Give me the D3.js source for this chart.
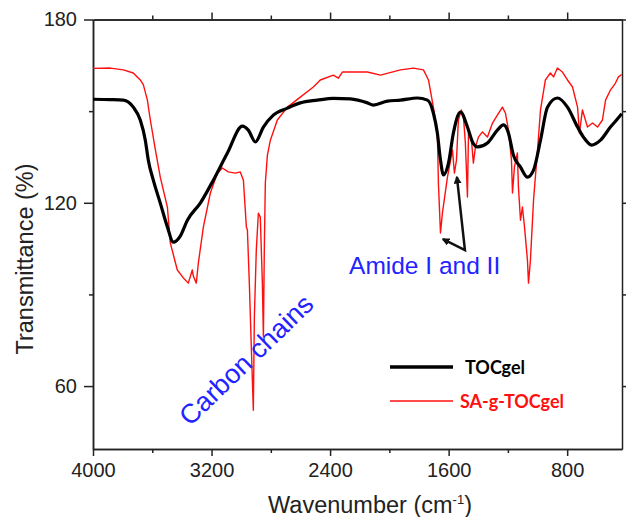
<!DOCTYPE html>
<html lang="en">
<head>
    <meta charset="UTF-8">
    <title>FTIR spectra</title>
    <script src="https://d3js.org/d3.v7.min.js"></script>
    <style>
        body { margin: 0; background-color: white; }
        .axis path, .axis line { stroke: #222; stroke-width: 1.5px; }
        .axis text { font-family: "Liberation Sans", Arial, sans-serif; font-size: 20px; fill: #222; }
        .title { font-family: "Liberation Sans", Arial, sans-serif; font-size: 23.5px; fill: #222; }
        .legend { font-family: Lato, "Open Sans", sans-serif; font-size: 18px; font-weight: bold; }
        .note { font-family: "Liberation Sans", Arial, sans-serif; fill: #2323ff; }
    </style>
</head>
<body>
<script>
    // wavenumber (cm-1), transmittance (%)
    const tocgel = [
        [4000, 153.9], [3883, 153.8], [3795, 153.6], [3728, 151.3], [3681, 147.1], [3647, 140.5],
        [3627, 134.0], [3593, 127.4], [3546, 119.9], [3498, 112.1], [3458, 107.1], [3411, 109.1],
        [3363, 114.3], [3276, 119.9], [3188, 127.4], [3093, 136.3], [2992, 145.1], [2952, 143.8],
        [2904, 139.9], [2850, 144.8], [2783, 148.7], [2688, 151.0], [2601, 152.7], [2486, 153.6],
        [2378, 154.2], [2263, 154.0], [2148, 152.7], [2108, 152.0], [2013, 153.3], [1925, 153.6],
        [1811, 154.3], [1743, 153.6], [1703, 149.4], [1676, 142.8], [1655, 134.0], [1635, 129.1],
        [1601, 133.0], [1568, 142.8], [1520, 149.7], [1473, 144.8], [1439, 139.9], [1406, 138.3],
        [1338, 139.6], [1271, 143.8], [1230, 145.5], [1196, 142.8], [1163, 135.6], [1115, 131.7],
        [1068, 128.4], [1027, 130.7], [980, 140.5], [933, 151.3], [866, 154.3], [798, 151.3],
        [730, 144.8], [690, 141.5], [635, 138.9], [575, 140.5], [508, 144.8], [454, 147.8], [432, 149.2]
    ];
    const saTocgel = [
        [4000, 164.0], [3883, 164.1], [3795, 163.5], [3728, 162.5], [3681, 160.2], [3660, 158.6],
        [3633, 153.6], [3613, 147.1], [3579, 137.3], [3546, 128.4], [3498, 118.6], [3478, 106.8],
        [3431, 98.0], [3390, 95.4], [3357, 93.7], [3330, 98.0], [3323, 96.0], [3303, 93.7],
        [3289, 100.3], [3255, 112.1], [3208, 123.2], [3161, 129.7], [3127, 131.4], [3087, 130.1],
        [3039, 129.7], [3006, 130.1], [2985, 127.4], [2965, 112.1], [2958, 111.1], [2945, 93.7],
        [2931, 71.8], [2918, 52.1], [2911, 82.6], [2898, 104.5], [2884, 116.6], [2871, 115.3],
        [2857, 93.7], [2850, 76.0], [2844, 104.5], [2837, 126.5], [2823, 135.6], [2803, 140.5],
        [2756, 147.1], [2688, 151.3], [2601, 154.6], [2513, 157.9], [2466, 160.2], [2378, 161.8],
        [2344, 160.8], [2317, 162.8], [2148, 162.8], [2060, 161.8], [1925, 163.5], [1838, 164.1],
        [1770, 163.5], [1736, 160.2], [1703, 151.3], [1676, 142.8], [1669, 126.5], [1655, 110.1],
        [1642, 116.6], [1608, 128.4], [1574, 137.3], [1561, 129.7], [1547, 134.0], [1534, 147.1],
        [1514, 150.4], [1500, 148.1], [1487, 139.6], [1473, 121.9], [1466, 142.8], [1446, 140.5],
        [1433, 133.0], [1419, 138.3], [1399, 141.5], [1372, 143.2], [1338, 141.5], [1304, 146.1],
        [1271, 148.7], [1237, 151.3], [1217, 149.4], [1196, 143.8], [1176, 134.0], [1169, 123.2],
        [1156, 131.7], [1136, 136.3], [1129, 125.2], [1115, 114.3], [1102, 118.6], [1088, 112.1],
        [1068, 101.2], [1061, 93.7], [1048, 101.2], [1027, 120.9], [1000, 137.3], [980, 150.4],
        [947, 160.2], [913, 162.5], [892, 161.2], [866, 164.1], [832, 162.8], [798, 160.2],
        [764, 157.9], [730, 151.3], [717, 142.8], [697, 150.4], [663, 144.8], [629, 146.1],
        [595, 144.8], [562, 147.1], [541, 153.6], [508, 156.9], [474, 159.2], [454, 161.2], [432, 162.0]
    ];
    const seriesNames = ["TOCgel", "SA-g-TOCgel"];
    const seriesColors = ["#000000", "#ff1010"];
    const xMajor = [4000, 3200, 2400, 1600, 800];
    const xMinor = [3600, 2800, 2000, 1200];
    const yMajor = [180, 120, 60];
    const yMinor = [150, 90];
    // annotation arrow: left tip, corner, upper tip
    const amideArrow = [[1638, 108.1], [1490, 104.5], [1544, 128.4]];
    const amideLabel = [2272, 96.7];
    const carbonLabel = [3345, 46.6];

    const width = 626, height = 517;
    const x = d3.scaleLinear().domain([4000, 430]).range([93, 622]);
    const y = d3.scaleLinear().domain([39.4, 180]).range([449, 19.5]);

    const svg = d3.select("body").append("svg")
        .attr("width", width)
        .attr("height", height);

    // axes
    svg.append("g").attr("class", "axis")
        .attr("transform", "translate(0,449)")
        .call(d3.axisBottom(x).tickValues(xMajor).tickSize(7).tickPadding(7).tickSizeOuter(0).tickFormat(d3.format("d")));
    svg.append("g").attr("class", "axis")
        .attr("transform", "translate(0,449)")
        .call(d3.axisBottom(x).tickValues(xMinor).tickSize(4).tickSizeOuter(0).tickFormat(""));
    svg.append("g").attr("class", "axis")
        .attr("transform", "translate(0,19.5)")
        .call(d3.axisTop(x).tickValues(xMajor.slice(1)).tickSize(7).tickSizeOuter(0).tickFormat(""));
    svg.append("g").attr("class", "axis")
        .attr("transform", "translate(0,19.5)")
        .call(d3.axisTop(x).tickValues(xMinor).tickSize(4).tickSizeOuter(0).tickFormat(""));
    svg.append("g").attr("class", "axis")
        .attr("transform", "translate(93,0)")
        .call(d3.axisLeft(y).tickValues(yMajor).tickSize(9).tickPadding(7).tickSizeOuter(0));
    svg.append("g").attr("class", "axis")
        .attr("transform", "translate(93,0)")
        .call(d3.axisLeft(y).tickValues(yMinor).tickSize(4).tickSizeOuter(0).tickFormat(""));
    svg.append("g").attr("class", "axis")
        .attr("transform", "translate(622,0)")
        .call(d3.axisRight(y).tickValues(yMajor.concat(yMinor)).tickSize(5).tickSizeOuter(0).tickFormat(""));

    // spectra
    const line = d3.line().x(d => x(d[0])).y(d => y(d[1]));
    svg.append("path")
        .datum(saTocgel)
        .attr("fill", "none")
        .attr("stroke", seriesColors[1])
        .attr("stroke-width", 1.4)
        .attr("stroke-linejoin", "round")
        .attr("d", line);
    svg.append("path")
        .datum(tocgel)
        .attr("fill", "none")
        .attr("stroke", seriesColors[0])
        .attr("stroke-width", 3.2)
        .attr("stroke-linejoin", "round")
        .attr("d", line.curve(d3.curveMonotoneX));

    // axis titles
    svg.append("text").attr("class", "title")
        .attr("text-anchor", "middle")
        .attr("transform", "translate(33,259)rotate(-90)")
        .text("Transmittance (%)");
    const xt = svg.append("text").attr("class", "title")
        .attr("x", 370).attr("y", 513)
        .attr("text-anchor", "middle");
    xt.append("tspan").text("Wavenumber (cm");
    xt.append("tspan").attr("dy", -9).attr("font-size", 13).text("-1");
    xt.append("tspan").attr("dy", 9).text(")");

    // legend
    const legend = svg.append("g");
    seriesNames.forEach((name, i) => {
        const ly = 367 + i * 34;
        legend.append("line")
            .attr("x1", 390).attr("x2", 453)
            .attr("y1", ly).attr("y2", ly)
            .attr("stroke", seriesColors[i])
            .attr("stroke-width", i === 0 ? 3.5 : 1.5);
        legend.append("text").attr("class", "legend")
            .attr("x", i === 0 ? 465 : 460).attr("y", ly + 7)
            .attr("fill", seriesColors[i])
            .text(name);
    });

    // annotations
    svg.append("defs").append("marker")
        .attr("id", "head")
        .attr("viewBox", "0 0 10 10")
        .attr("refX", 8).attr("refY", 5)
        .attr("markerWidth", 3.2).attr("markerHeight", 3.2)
        .attr("orient", "auto-start-reverse")
        .append("path").attr("d", "M0,0L10,5L0,10Z").attr("fill", "#111");
    svg.append("path")
        .datum(amideArrow)
        .attr("fill", "none")
        .attr("stroke", "#111")
        .attr("stroke-width", 2.5)
        .attr("marker-start", "url(#head)")
        .attr("marker-end", "url(#head)")
        .attr("d", d3.line().x(d => x(d[0])).y(d => y(d[1])));

    svg.append("text").attr("class", "note")
        .attr("font-size", 24.5)
        .attr("x", x(amideLabel[0])).attr("y", y(amideLabel[1]))
        .text("Amide I and II");
    svg.append("text").attr("class", "note")
        .attr("font-size", 27)
        .attr("transform", "translate(" + x(carbonLabel[0]) + "," + y(carbonLabel[1]) + ")rotate(-44)")
        .text("Carbon chains");
</script>
</body>
</html>
